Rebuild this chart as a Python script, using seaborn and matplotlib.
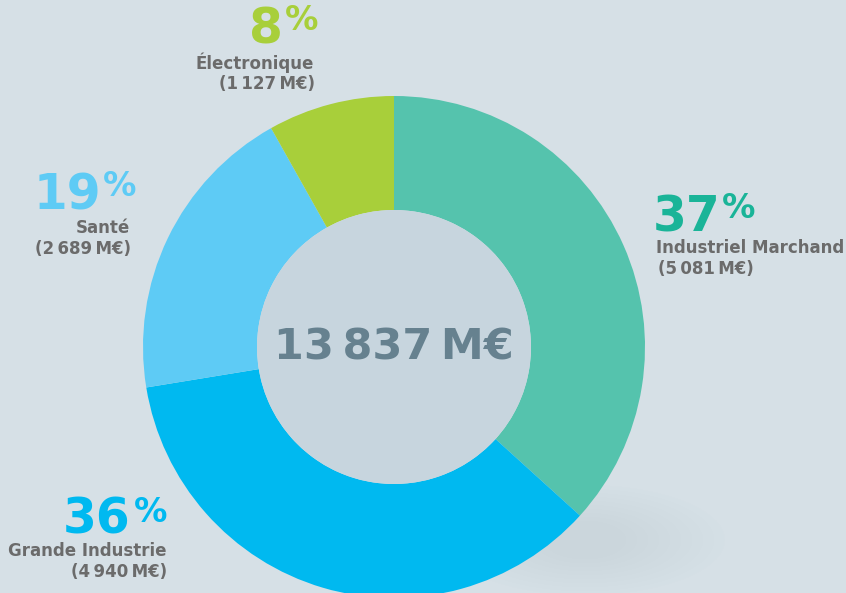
import matplotlib
matplotlib.use("Agg")
import matplotlib.pyplot as plt
from matplotlib.patches import Circle, Ellipse
import seaborn as sns

segments = ["Industriel Marchand", "Grande Industrie", "Santé", "Électronique"]
values = [5081, 4940, 2689, 1127]
colors = ["#55c3ad", "#00b9f0", "#5ecbf5", "#a8cf3a"]
text_colors = ["#1ab498", "#00b9f0", "#5ecbf5", "#a8cf3a"]

BG = "#d6e0e6"
HOLE = "#c7d5de"
GREY = "#6b6b6b"

sns.set_theme(style="white")
plt.rcParams["font.family"] = ["DejaVu Sans"]


def fmt(v):
    return f"{v:,}".replace(",", "\u2009")


total = sum(values)
pcts = [round(v / total * 100) for v in values]

fig = plt.figure(figsize=(8.46, 5.93), dpi=100)
fig.patch.set_facecolor(BG)
ax = fig.add_axes([0, 0, 1, 1])
ax.set_facecolor(BG)

cx, cy, r_out, r_in = 394, 347, 251, 137

# soft shadow under the ring, bottom right
for i in range(10):
    ax.add_patch(Ellipse((585, 540), 280 - i * 22, 110 - i * 8,
                         color="#b9c8d1", alpha=0.035, lw=0, zorder=0))

# y axis is inverted (pixel coords), so counterclock=True draws clockwise on screen
ax.pie(values, colors=colors, startangle=-90, counterclock=True,
       center=(cx, cy), radius=r_out,
       wedgeprops=dict(width=r_out - r_in, linewidth=0), frame=True)
ax.add_patch(Circle((cx, cy), r_in, color=HOLE, lw=0, zorder=3))

ax.set_xlim(0, 846)
ax.set_ylim(593, 0)
ax.set_aspect("auto")
ax.axis("off")

ax.text(cx, cy, f"{fmt(total)}\u2009M€", ha="center", va="center",
        fontsize=31, fontweight="bold", color="#66818f", zorder=4)

# (pct x, pct y, % x, label anchor x, label y, align)
layout = [
    (653, 217, 722, 656, 248, "left"),
    (130, 520, 134, 166, 551, "right"),
    (101, 195, 103, 130, 228, "right"),
    (283, 29, 285, 314, 63, "right"),
]

for seg, v, p, c, (px, py, sx, lx, ly, ha) in zip(segments, values, pcts, text_colors, layout):
    ax.text(px, py, str(p), ha=ha, va="center",
            fontsize=35, fontweight="bold", color=c)
    ax.text(sx, py - 8, "%", ha="left", va="center",
            fontsize=24, fontweight="bold", color=c)
    ax.text(lx, ly, seg, ha=ha, va="center", fontsize=12,
            fontweight="bold", color=GREY)
    ax.text(lx + (2 if ha == "left" else 1), ly + 21, f"({fmt(v)}\u2009M€)",
            ha=ha, va="center", fontsize=12, fontweight="bold", color=GREY)

fig.savefig("out.png", dpi=100, facecolor=BG)
